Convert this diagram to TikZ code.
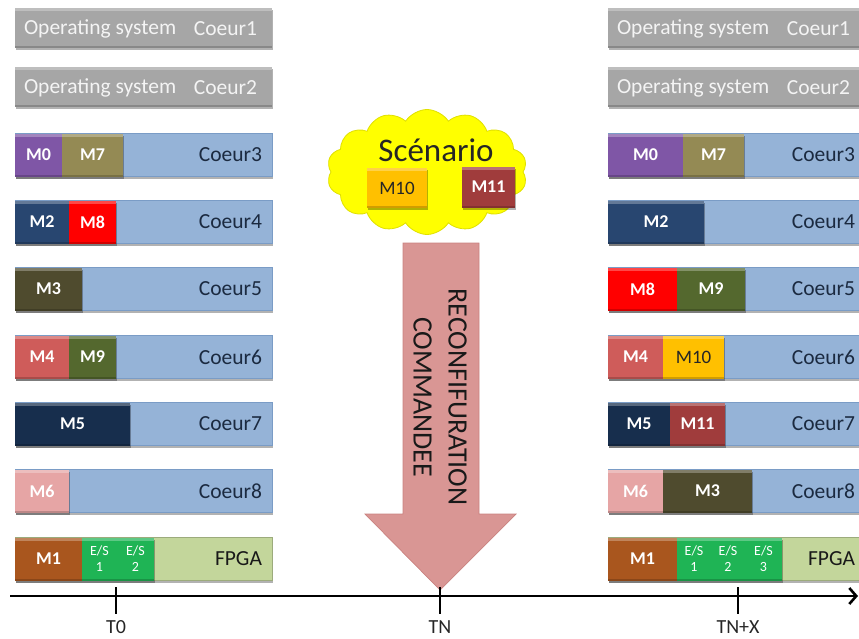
\documentclass[tikz,border=0pt]{standalone}
\usepackage{fontspec}
\setmainfont{Carlito}
\usetikzlibrary{shapes.symbols,shadows,arrows.meta}

% palette
\definecolor{cOS}{HTML}{A6A6A6}
\definecolor{cOSText}{HTML}{F4F4F4}
\definecolor{cCore}{HTML}{95B3D7}
\definecolor{cCoreLine}{HTML}{7A9CC6}
\definecolor{cCoreText}{HTML}{1B2A40}
\definecolor{cPurple}{HTML}{7F56A6}
\definecolor{cKhaki}{HTML}{948A54}
\definecolor{cNavy}{HTML}{284670}
\definecolor{cRed}{HTML}{FF0000}
\definecolor{cOlive}{HTML}{4F4B2E}
\definecolor{cRose}{HTML}{CF5C5A}
\definecolor{cMoss}{HTML}{54682E}
\definecolor{cInk}{HTML}{172E4D}
\definecolor{cPink}{HTML}{E6A5A5}
\definecolor{cRust}{HTML}{A9561E}
\definecolor{cGreen}{HTML}{1FB455}
\definecolor{cLime}{HTML}{C3D69B}
\definecolor{cAmber}{HTML}{FFC000}
\definecolor{cMaroon}{HTML}{A03C3C}
\definecolor{cArrow}{HTML}{D99694}
\definecolor{cArrowLine}{HTML}{C9827F}
\definecolor{cCloud}{HTML}{FFFF00}
\definecolor{cCloudLine}{HTML}{E0E000}
\definecolor{cLabel}{HTML}{262626}

\tikzset{
  every node/.style={inner sep=0pt, outer sep=0pt},
  barshadow/.style={drop shadow={shadow xshift=1pt, shadow yshift=-2pt, opacity=0.3, fill=black}},
  bevel/.style={path picture={
      \fill[white,opacity=.28] (path picture bounding box.north west)
        rectangle ([yshift=-3pt]path picture bounding box.north east);
      \fill[black,opacity=.18] (path picture bounding box.south west)
        rectangle ([yshift=2pt]path picture bounding box.south east);}},
  corebar/.style={rectangle, fill=cCore, draw=cCoreLine, line width=0.6pt,
    minimum height=43pt, minimum width=257pt, anchor=west, barshadow},
  osbar/.style={rectangle, fill=cOS, minimum height=40pt, minimum width=257pt,
    anchor=west, barshadow, bevel},
  ostxt/.style={text=cOSText, font=\fontsize{21.5}{24}\selectfont},
  coretxt/.style={text=cCoreText, font=\fontsize{21.5}{24}\selectfont, anchor=east},
  modbox/.style={rectangle, minimum height=43pt, text=white,
    font=\fontsize{18}{20}\selectfont\bfseries, barshadow, bevel},
  estxt/.style={align=center, font=\fontsize{14}{16}\selectfont},
  axisline/.style={line width=2.6pt, black},
  tickline/.style={line width=2.6pt, black},
  ticklbl/.style={text=cLabel, font=\fontsize{20}{22}\selectfont},
}

% module box: name, left x, right x, centre y, options, label
\newcommand\modnode[6]{%
  \node[modbox, fill=#5, minimum width={(#3-#2)*1pt}] (#1) at ({(#2+#3)/2},#4) {#6};}

\begin{document}
\begin{tikzpicture}[x=1pt, y=-1pt]
\useasboundingbox (0,0) rectangle (859,638);
\clip (0,0) rectangle (859,638);

% ---------------- operating system rows ----------------
\foreach \side/\x in {l/15, r/608}{
  \foreach \n/\y in {1/28, 2/87}{
    \node[osbar] (\side OS\n) at (\x,\y) {};
    \node[ostxt, anchor=west] (\side OS\n a) at ([xshift=9pt,yshift=-1pt]\side OS\n.west) {Operating system};
    \node[ostxt, anchor=east] (\side OS\n b) at ([xshift=-15pt,yshift=-1pt]\side OS\n.east) {Coeur\n};
  }
  \foreach \n/\y in {3/155, 4/222, 5/289, 6/357, 7/424, 8/491}{
    \node[corebar] (\side C\n) at (\x,\y) {};
    \node[coretxt] (\side C\n t) at ([xshift=-10pt]\side C\n.east) {Coeur\n};
  }
  \node[corebar, fill=cLime, draw=cLime!80!black] (\side F) at (\x,559) {};
  \node[coretxt, text=black!90] (\side Ft) at ([xshift=-10pt]\side F.east) {FPGA};
}

% ---------------- tasks at T0 ----------------
\modnode{lM0}{15}{62}{155}{cPurple}{M0}
\modnode{lM7}{62}{123}{155}{cKhaki}{M7}
\modnode{lM2}{15}{69}{222}{cNavy}{M2}
\modnode{lM8}{69}{116}{222}{cRed}{M8}
\modnode{lM3}{15}{82}{289}{cOlive}{M3}
\modnode{lM4}{15}{69}{357}{cRose}{M4}
\modnode{lM9}{69}{116}{357}{cMoss}{M9}
\modnode{lM5}{15}{130}{424}{cInk}{M5}
\modnode{lM6}{15}{69}{491}{cPink}{M6}
\modnode{lM1}{15}{82}{559}{cRust}{M1}
\modnode{lES1}{82}{117}{559}{cGreen, estxt}{E/S\\1}
\modnode{lES2}{117}{154}{559}{cGreen, estxt}{E/S\\2}

% ---------------- tasks at TN+X ----------------
\modnode{rM0}{608}{683}{155}{cPurple}{M0}
\modnode{rM7}{683}{744}{155}{cKhaki}{M7}
\modnode{rM2}{608}{704}{222}{cNavy}{M2}
\modnode{rM8}{608}{677}{289}{cRed}{M8}
\modnode{rM9}{677}{745}{289}{cMoss}{M9}
\modnode{rM4}{608}{663}{357}{cRose}{M4}
\modnode{rM10}{663}{724}{357}{cAmber, text=black!85, font=\fontsize{19}{21}\selectfont}{M10}
\modnode{rM5}{608}{670}{424}{cInk}{M5}
\modnode{rM11}{670}{725}{424}{cMaroon}{M11}
\modnode{rM6}{608}{663}{491}{cPink}{M6}
\modnode{rM3}{663}{752}{491}{cOlive}{M3}
\modnode{rM1}{608}{677}{559}{cRust}{M1}
\modnode{rES1}{677}{711}{559}{cGreen, estxt}{E/S\\1}
\modnode{rES2}{711}{745}{559}{cGreen, estxt}{E/S\\2}
\modnode{rES3}{745}{782}{559}{cGreen, estxt}{E/S\\3}

% ---------------- scenario cloud ----------------
\node[cloud, cloud puffs=14, cloud puff arc=115, cloud ignores aspect,
      minimum width=200pt, minimum height=125pt,
      fill=cCloud, draw=cCloudLine, line width=0.8pt] (scen) at (427,172) {};
\node[font=\fontsize{33}{36}\selectfont, text=black!85] (scenT) at (436,150) {Scénario};
\modnode{sM10}{367}{427}{188}{cAmber, minimum height=40pt, text=black!85, font=\fontsize{19}{21}\selectfont}{M10}
\modnode{sM11}{462}{515}{187}{cMaroon, minimum height=41pt}{M11}

% ---------------- reconfiguration arrow ----------------
\draw[fill=cArrow, draw=cArrowLine, line width=0.7pt, line join=miter]
  (403,243) -- (479,243) -- (479,514) -- (516,514) -- (440,590)
  -- (365,514) -- (403,514) -- cycle;
\node[rotate=-90, align=center, text=black!90,
      font=\fontsize{28}{35}\selectfont] (recon) at (440,397)
  {RECONFIFURATION\\COMMANDEE};

% ---------------- time axis ----------------
\coordinate (axL) at (10,596);
\coordinate (axR) at (858,596);
\draw[axisline, -{Straight Barb[length=7pt, width=16pt, line width=2.6pt]}] (axL) -- (axR);
\foreach \t/\x/\lab in {t0/116/T0, tn/440/TN, tx/738/TN+X}{
  \coordinate (\t a) at (\x,587);
  \coordinate (\t b) at (\x,614);
  \draw[tickline] (\t a) -- (\t b);
  \node[ticklbl] (\t l) at (\x,627) {\lab};
}
\end{tikzpicture}
\end{document}
